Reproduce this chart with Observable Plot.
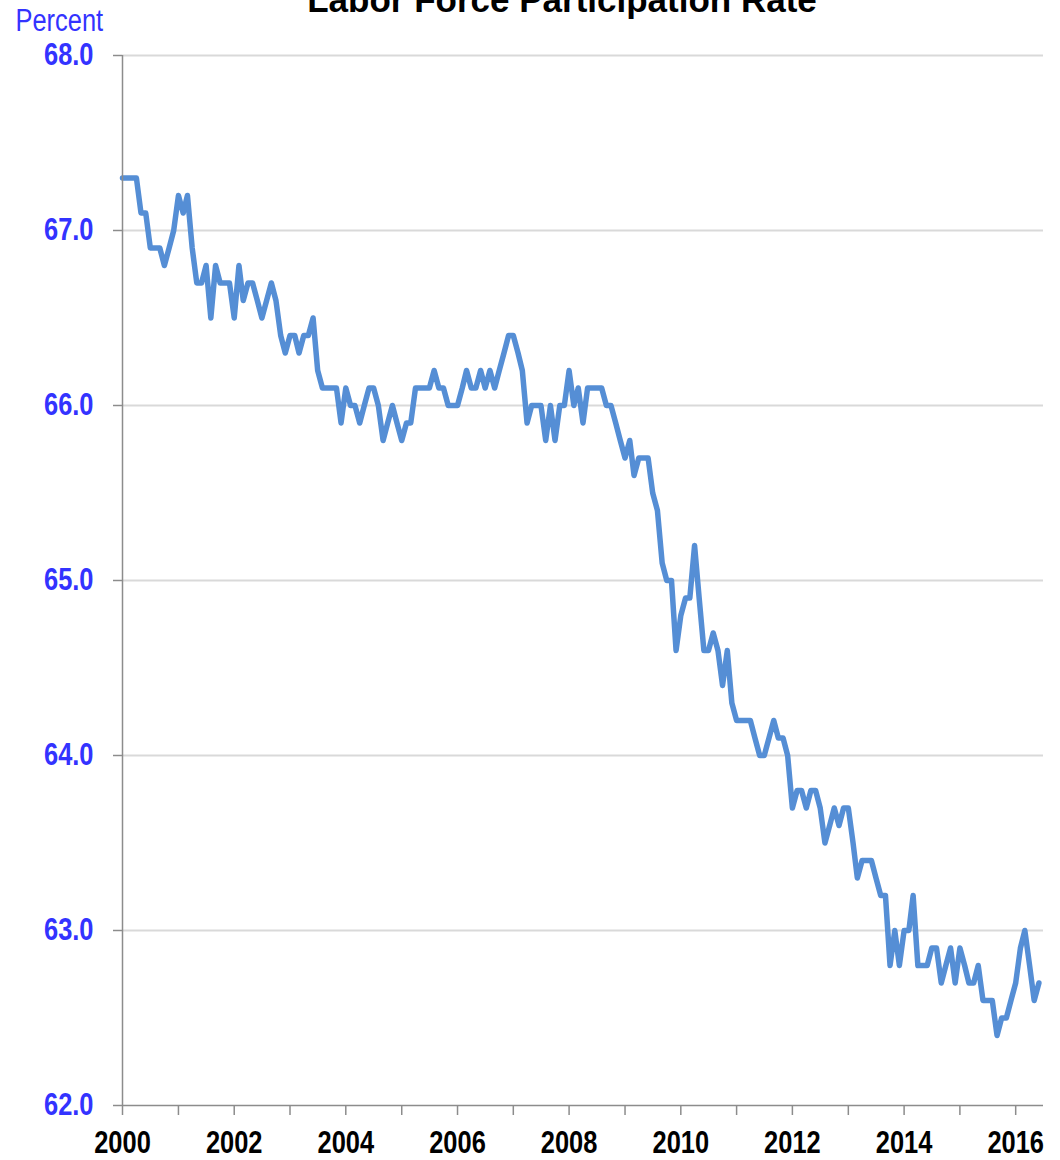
<!DOCTYPE html>
<html>
<head>
<meta charset="utf-8">
<script src="https://cdn.jsdelivr.net/npm/d3@7"></script>
<script src="https://cdn.jsdelivr.net/npm/@observablehq/plot@0.6"></script>
<style>
  body { margin: 0; background: #fff; }
</style>
</head>
<body>
<div id="chart"></div>
<script>
// Labor force participation rate, monthly, Jan 2000 – Jun 2016 (percent)
const years = [2000, 2001, 2002, 2003, 2004, 2005, 2006, 2007, 2008, 2009, 2010, 2011, 2012, 2013, 2014, 2015, 2016];
const rates = [
  [67.3, 67.3, 67.3, 67.3, 67.1, 67.1, 66.9, 66.9, 66.9, 66.8, 66.9, 67.0],
  [67.2, 67.1, 67.2, 66.9, 66.7, 66.7, 66.8, 66.5, 66.8, 66.7, 66.7, 66.7],
  [66.5, 66.8, 66.6, 66.7, 66.7, 66.6, 66.5, 66.6, 66.7, 66.6, 66.4, 66.3],
  [66.4, 66.4, 66.3, 66.4, 66.4, 66.5, 66.2, 66.1, 66.1, 66.1, 66.1, 65.9],
  [66.1, 66.0, 66.0, 65.9, 66.0, 66.1, 66.1, 66.0, 65.8, 65.9, 66.0, 65.9],
  [65.8, 65.9, 65.9, 66.1, 66.1, 66.1, 66.1, 66.2, 66.1, 66.1, 66.0, 66.0],
  [66.0, 66.1, 66.2, 66.1, 66.1, 66.2, 66.1, 66.2, 66.1, 66.2, 66.3, 66.4],
  [66.4, 66.3, 66.2, 65.9, 66.0, 66.0, 66.0, 65.8, 66.0, 65.8, 66.0, 66.0],
  [66.2, 66.0, 66.1, 65.9, 66.1, 66.1, 66.1, 66.1, 66.0, 66.0, 65.9, 65.8],
  [65.7, 65.8, 65.6, 65.7, 65.7, 65.7, 65.5, 65.4, 65.1, 65.0, 65.0, 64.6],
  [64.8, 64.9, 64.9, 65.2, 64.9, 64.6, 64.6, 64.7, 64.6, 64.4, 64.6, 64.3],
  [64.2, 64.2, 64.2, 64.2, 64.1, 64.0, 64.0, 64.1, 64.2, 64.1, 64.1, 64.0],
  [63.7, 63.8, 63.8, 63.7, 63.8, 63.8, 63.7, 63.5, 63.6, 63.7, 63.6, 63.7],
  [63.7, 63.5, 63.3, 63.4, 63.4, 63.4, 63.3, 63.2, 63.2, 62.8, 63.0, 62.8],
  [63.0, 63.0, 63.2, 62.8, 62.8, 62.8, 62.9, 62.9, 62.7, 62.8, 62.9, 62.7],
  [62.9, 62.8, 62.7, 62.7, 62.8, 62.6, 62.6, 62.6, 62.4, 62.5, 62.5, 62.6],
  [62.7, 62.9, 63.0, 62.8, 62.6, 62.7]
];
const yTicks = [62, 63, 64, 65, 66, 67, 68];
const gridValues = [63, 64, 65, 66, 67, 68];
const tickYears = [2000, 2001, 2002, 2003, 2004, 2005, 2006, 2007, 2008, 2009, 2010, 2011, 2012, 2013, 2014, 2015, 2016];
const labelYears = [2000, 2002, 2004, 2006, 2008, 2010, 2012, 2014, 2016];
const titleText = "Labor Force Participation Rate";
const unitText = "Percent";

const data = years.flatMap((yr, i) =>
  rates[i].map((v, m) => ({date: new Date(Date.UTC(yr, m, 1)), value: v}))
);
const tickDates = tickYears.map(y => new Date(Date.UTC(y, 0, 1)));
const xStart = new Date(Date.UTC(2000, 0, 1));
const xEnd = new Date(Date.UTC(2016, 6, 1));

const narrow = "'Liberation Sans Narrow','Arial Narrow','Liberation Sans',Arial,sans-serif";
const blue = "#3333ff";
const axisGray = "#8c8c8c";

const chart = Plot.plot({
  width: 1060,
  height: 1160,
  marginTop: 55,
  marginBottom: 55,
  marginLeft: 122,
  marginRight: 17,
  style: {background: "white", overflow: "visible"},
  x: {type: "utc", domain: [xStart, xEnd]},
  y: {domain: [62, 68]},
  marks: [
    Plot.gridY(gridValues, {stroke: "#d9d9d9", strokeOpacity: 1, strokeWidth: 2}),
    Plot.lineY(data, {x: "date", y: "value", stroke: "#558ed5", strokeWidth: 5.5, strokeLinejoin: "round"}),
    Plot.ruleX([xStart], {stroke: axisGray, strokeWidth: 1.5}),
    Plot.ruleY([62], {stroke: axisGray, strokeWidth: 1.5}),
    Plot.axisY({
      ticks: yTicks, tickFormat: d3.format(".1f"), tickSize: 9, tickPadding: 20,
      stroke: axisGray, strokeWidth: 1.5, fill: blue,
      fontSize: 31, fontWeight: "bold", fontFamily: narrow, label: null
    }),
    Plot.axisX({
      ticks: tickDates,
      tickFormat: d => labelYears.includes(d.getUTCFullYear()) ? String(d.getUTCFullYear()) : "",
      tickSize: 10, tickPadding: 15, stroke: axisGray, strokeWidth: 1.5, fill: "black",
      fontSize: 31, fontWeight: "bold", fontFamily: narrow, label: null
    }),
    Plot.text([unitText], {
      frameAnchor: "top-left", dx: -107, dy: -25, lineAnchor: "bottom", textAnchor: "start",
      fill: blue, fontSize: 31, fontFamily: narrow
    }),
    Plot.text([titleText], {
      frameAnchor: "top", dx: -21, dy: -44, lineAnchor: "bottom", textAnchor: "middle",
      fill: "black", fontSize: 35, fontWeight: "bold", fontFamily: "'Liberation Sans',Arial,sans-serif"
    })
  ]
});
document.getElementById("chart").appendChild(chart);

// Emulate the condensed (Arial Narrow-like) face of the reference's axis labels
function condense(nodes, factor) {
  nodes.forEach(el => {
    const w = el.getComputedTextLength();
    if (w > 0) {
      el.setAttribute("textLength", (w * factor).toFixed(1));
      el.setAttribute("lengthAdjust", "spacingAndGlyphs");
    }
  });
}
const svg = d3.select(chart);
condense(svg.selectAll('g[aria-label="y-axis tick label"] text').nodes(), 0.82);
condense(svg.selectAll('g[aria-label="x-axis tick label"] text').nodes(), 0.82);
condense(svg.selectAll('g[aria-label="text"] text').filter(function() { return this.textContent === unitText; }).nodes(), 0.82);
</script>
</body>
</html>
